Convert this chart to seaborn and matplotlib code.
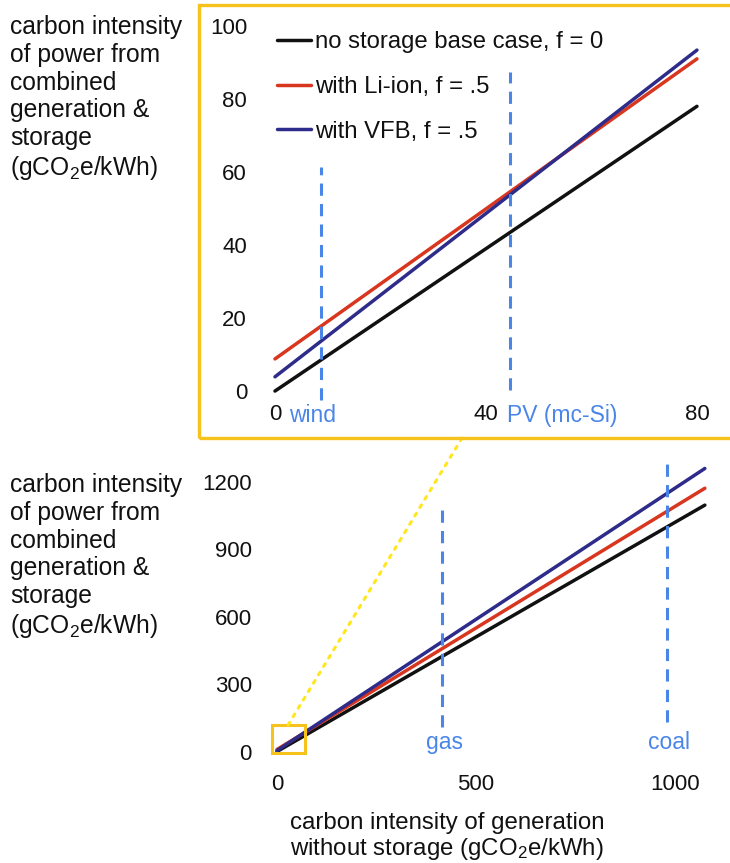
import numpy as np
import pandas as pd
import matplotlib
matplotlib.use("Agg")
import matplotlib.pyplot as plt
import seaborn as sns
from matplotlib.patches import Rectangle, ConnectionPatch
from matplotlib.transforms import blended_transform_factory

# ---------------- data ----------------
cases = ["no storage base case, f = 0", "with Li-ion, f = .5", "with VFB, f = .5"]
case_colors = ["#111111", "#D8361F", "#2E2C8A"]

top_x = [0, 80]
top_base = [0, 78]
top_liion = [8.8, 91]
top_vfb = [3.9, 93.4]

bottom_x = [0, 1075]
bottom_base = [0, 1095]
bottom_liion = [9, 1170]
bottom_vfb = [4, 1258]

top_sources = ["wind", "PV (mc-Si)"]
top_source_x = [8.7, 44.5]
top_source_ymin = [-2.5, 0.3]
top_source_ymax = [61.5, 87.5]

bottom_sources = ["gas", "coal"]
bottom_source_x = [415, 980]
bottom_source_ymin = [110, 130]
bottom_source_ymax = [1105, 1310]

top_xticks = [0, 40, 80]
top_yticks = [0, 20, 40, 60, 80, 100]
bottom_xticks = [0, 500, 1000]
bottom_yticks = [0, 300, 600, 900, 1200]

ylabel_text = "carbon intensity\nof power from\ncombined\ngeneration &\nstorage\n(gCO$_2$e/kWh)"
xlabel_text = "carbon intensity of generation\nwithout storage (gCO$_2$e/kWh)"

def long_frame(x, series):
    rows = []
    for name, ys in zip(cases, series):
        for xi, yi in zip(x, ys):
            rows.append({"x": xi, "y": yi, "case": name})
    return pd.DataFrame(rows)

top_df = long_frame(top_x, [top_base, top_liion, top_vfb])
bottom_df = long_frame(bottom_x, [bottom_base, bottom_liion, bottom_vfb])

# ---------------- style ----------------
sns.set_theme(style="white")
plt.rcParams["font.family"] = ["Liberation Sans", "DejaVu Sans"]
plt.rcParams["mathtext.fontset"] = "custom"
plt.rcParams["mathtext.rm"] = "Liberation Sans"
plt.rcParams["mathtext.default"] = "regular"
plt.rcParams["text.color"] = "#111111"
plt.rcParams["xtick.color"] = "#111111"
plt.rcParams["ytick.color"] = "#111111"

W, H = 730, 863
fig = plt.figure(figsize=(W / 100, H / 100), dpi=100)

def px_axes(x0, x1, y0, y1):
    return fig.add_axes([x0 / W, 1 - y1 / H, (x1 - x0) / W, (y1 - y0) / H])

ax_top = px_axes(269.7, 707.5, 18.7, 402)
ax_bot = px_axes(273, 714.8, 454.5, 754.9)

pal = dict(zip(cases, case_colors))
blue_txt = "#4A86E8"
yellow = "#F6C21C"

# top panel
sns.lineplot(data=top_df, x="x", y="y", hue="case", palette=pal, hue_order=cases,
             ax=ax_top, linewidth=2.5, legend=True)
ax_top.vlines(top_source_x, top_source_ymin, top_source_ymax, colors=blue_txt,
              linewidth=2.2, linestyles=(0, (4, 2.7)))
ax_top.set_xlim(-1, 82)
ax_top.set_ylim(-3, 102)
ax_top.set_xticks(top_xticks)
ax_top.set_yticks(top_yticks)
ax_top.tick_params(axis="x", length=0, pad=1.5, labelsize=16, labelcolor="#111111")
ax_top.tick_params(axis="y", length=0, pad=16.3, labelsize=16, labelcolor="#111111")
ax_top.set_xlabel("")
ax_top.set_ylabel("")
for s in ax_top.spines.values():
    s.set_visible(False)
ax_top.patch.set_alpha(0)
trans_t = blended_transform_factory(ax_top.transData, ax_top.transAxes)
ax_top.text(top_source_x[0] - 1.5, -0.034, top_sources[0], transform=trans_t,
            ha="center", va="center", color=blue_txt, fontsize=16.5)
ax_top.text(top_source_x[1] - 0.5, -0.034, top_sources[1], transform=trans_t,
            ha="left", va="center", color=blue_txt, fontsize=16.5)

sns.move_legend(ax_top, loc="upper left", bbox_to_anchor=(0.017, 0.967),
                frameon=False, title=None, fontsize=17.2, handlelength=1.4,
                handletextpad=0.2, labelspacing=0.95, borderpad=0, borderaxespad=0)
for line in ax_top.get_legend().get_lines():
    line.set_linewidth(2.5)
for t in ax_top.get_legend().get_texts():
    t.set_color("#111111")

# bottom panel
sns.lineplot(data=bottom_df, x="x", y="y", hue="case", palette=pal, hue_order=cases,
             ax=ax_bot, linewidth=2.5, legend=False)
ax_bot.vlines(bottom_source_x, bottom_source_ymin, bottom_source_ymax, colors=blue_txt,
              linewidth=2.2, linestyles=(0, (4, 2.7)))
ax_bot.set_xlim(-10, 1100)
ax_bot.set_ylim(-15, 1320)
ax_bot.set_xticks(bottom_xticks)
ax_bot.set_yticks(bottom_yticks)
ax_bot.tick_params(axis="x", length=0, pad=13.5, labelsize=16, labelcolor="#111111")
ax_bot.tick_params(axis="y", length=0, pad=15.3, labelsize=16, labelcolor="#111111")
ax_bot.set_xlabel("")
ax_bot.set_ylabel("")
for s in ax_bot.spines.values():
    s.set_visible(False)
ax_bot.patch.set_alpha(0)
trans_b = blended_transform_factory(ax_bot.transData, ax_bot.transAxes)
for name, xv in zip(bottom_sources, bottom_source_x):
    ax_bot.text(xv + 5, 0.04, name, transform=trans_b, ha="center", va="center",
                color=blue_txt, fontsize=16.5)

# zoom box in bottom panel (region shown in top panel)
zx0, zx1 = -12, 70
zy0, zy1 = -7, 118
ax_bot.add_patch(Rectangle((zx0, zy0), zx1 - zx0, zy1 - zy0, fill=False,
                           edgecolor=yellow, linewidth=2.2, zorder=5, clip_on=False))

# yellow frame around top panel
fig.patches.append(Rectangle((199 / W, 1 - 438 / H), (740 - 199) / W, (438 - 5) / H,
                             transform=fig.transFigure, fill=False, edgecolor=yellow,
                             linewidth=2.4, figure=fig))

# dotted connector
con = ConnectionPatch(xyA=(28, zy1), coordsA=ax_bot.transData,
                      xyB=(462 / W, 1 - 438 / H), coordsB=fig.transFigure,
                      color="#FFE61E", linestyle=(0, (1, 2.2)), linewidth=2.2)
fig.add_artist(con)

# axis labels
fig.text(10 / W, 1 - 15 / H, ylabel_text, ha="left", va="top", fontsize=17.7,
         linespacing=1.2, color="#111111")
fig.text(10 / W, 1 - 473 / H, ylabel_text, ha="left", va="top", fontsize=17.7,
         linespacing=1.2, color="#111111")
fig.text(447 / W, 1 - 812 / H, xlabel_text, ha="center", va="top", fontsize=17.3,
         linespacing=1.12, color="#111111")

fig.savefig("out.png", dpi=100)
